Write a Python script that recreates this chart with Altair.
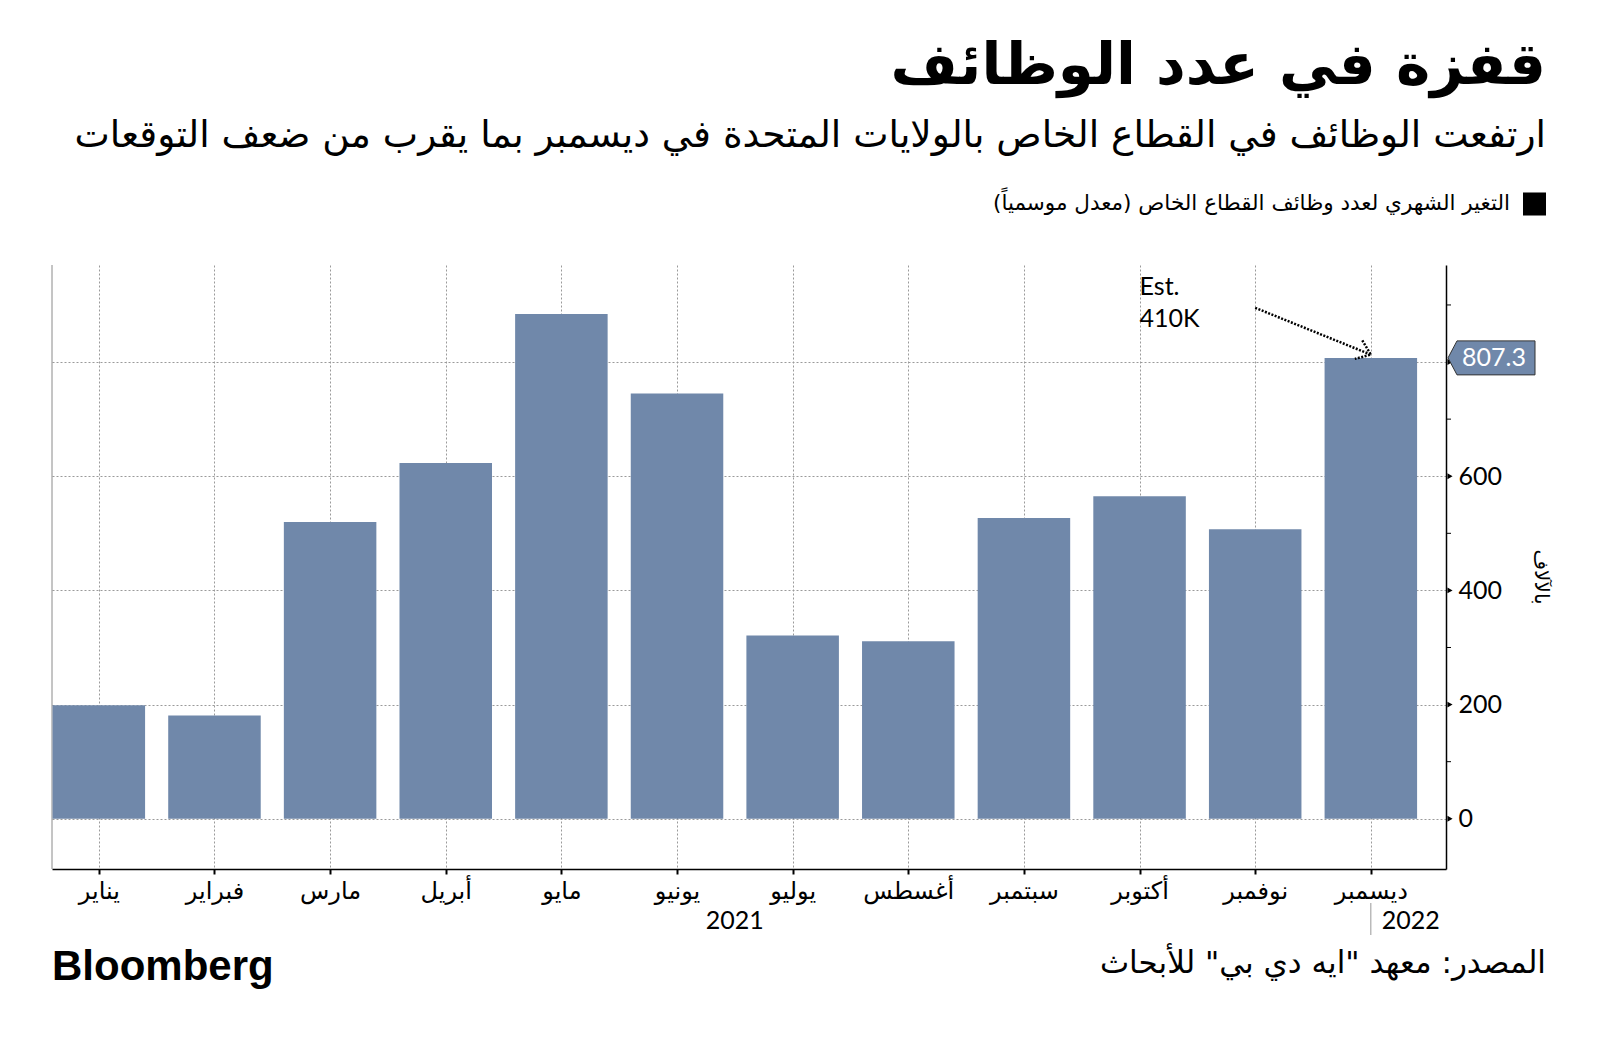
import json
import altair as alt
import pandas as pd

# ---------------- data ----------------
months = ['يناير', 'فبراير', 'مارس', 'أبريل', 'مايو', 'يونيو',
          'يوليو', 'أغسطس', 'سبتمبر', 'أكتوبر', 'نوفمبر', 'ديسمبر']
values = [199, 181, 520, 623, 884, 745, 321, 311, 527, 565, 507, 807.3]
y_ticks = [0, 200, 400, 600, 800]
minor_ticks = [100, 300, 500, 700, 900]
years = ["2021", "2022"]
year_pos = [5.5, 11]
last_value = 807.3
last_label = "807.3"
est_lines = ["Est.", "410K"]
est_y = [931, 876]
arrow_x = [10.0, 11.0]
arrow_y = [895, 813]

title = "قفزة في عدد الوظائف"
subtitle = "ارتفعت الوظائف في القطاع الخاص بالولايات المتحدة في ديسمبر بما يقرب من ضعف التوقعات"
legend_label = "التغير الشهري لعدد وظائف القطاع الخاص (معدل موسمياً)"
source = 'المصدر: معهد "ايه دي بي" للأبحاث'
y_title = "بالآلاف"
brand = "Bloomberg"

# ---------------- layout ----------------
W, H = 1394, 604
BAR = "#7088aa"
AR = "DejaVu Sans"
LAT = "Lato"

bars_df = pd.DataFrame({
    "i": list(range(12)),
    "lo": [i - 0.4 for i in range(12)],
    "hi": [i + 0.4 for i in range(12)],
    "v": values,
})
one = pd.DataFrame({"a": [0]})

xs = alt.Scale(domain=[-0.405, 11.65], nice=False, zero=False)
ys = alt.Scale(domain=[-88, 970], nice=False, zero=False)

label_expr = "[" + ",".join(json.dumps(m, ensure_ascii=False) for m in months) + "][datum.value]"

x_axis = alt.Axis(values=list(range(12)), labelExpr=label_expr, grid=True,
                  gridDash=[2, 2], gridColor="#9a9a9a", gridWidth=1,
                  domainColor="black", domainWidth=1.5, tickColor="black",
                  tickSize=5, tickWidth=2, labelFont=AR, labelFontSize=24,
                  labelColor="black", labelPadding=5, title=None)
y_axis = alt.Axis(orient="right", values=y_ticks,
                  labelExpr="datum.value == 800 ? '' : datum.label",
                  grid=True, gridDash=[2, 2], gridColor="#9a9a9a", gridWidth=1,
                  ticks=False, domainColor="black", domainWidth=1.5,
                  labelFont=LAT, labelFontSize=25, labelColor="black",
                  labelPadding=12, title=None)

bars = alt.Chart(bars_df).mark_bar(color=BAR).encode(
    x=alt.X("lo:Q", scale=xs, axis=x_axis, title=None),
    x2="hi:Q",
    y=alt.Y("v:Q", scale=ys, axis=y_axis, title=None),
    y2=alt.datum(0),
)

left_line = alt.Chart(one).mark_rule(color="#8a8a8a", strokeWidth=1).encode(
    x=alt.value(0), y=alt.value(0), y2=alt.value(H))

tri = alt.Chart(pd.DataFrame({"v": y_ticks})).mark_point(
    shape="triangle-right", filled=True, color="black", size=35, opacity=1
).encode(x=alt.value(W + 4), y=alt.Y("v:Q", scale=ys, title=None))

minor = alt.Chart(pd.DataFrame({"v": minor_ticks})).mark_rule(
    color="black", strokeWidth=1
).encode(x=alt.value(W), x2=alt.value(W + 5), y=alt.Y("v:Q", scale=ys, title=None))

box_path = "M0,0 L0.45,-0.85 L4.35,-0.85 L4.35,0.85 L0.45,0.85 Z"
box = alt.Chart(pd.DataFrame({"v": [last_value]})).mark_point(
    shape=box_path, size=1600, filled=True, fill=BAR, stroke="#333333",
    strokeWidth=1, opacity=1
).encode(x=alt.value(W + 2), y=alt.Y("v:Q", scale=ys, title=None))
box_txt = alt.Chart(pd.DataFrame({"v": [last_value], "t": [last_label]})).mark_text(
    color="white", font=LAT, fontSize=25, align="center", baseline="middle"
).encode(x=alt.value(W + 48), y=alt.Y("v:Q", scale=ys, title=None), text="t:N")

est = alt.Chart(pd.DataFrame({"x": [9, 9], "v": est_y, "t": est_lines})).mark_text(
    color="black", font=LAT, fontSize=25, align="left", baseline="middle"
).encode(x=alt.X("x:Q", scale=xs, title=None), y=alt.Y("v:Q", scale=ys, title=None), text="t:N")

arrow = alt.Chart(pd.DataFrame({"x": arrow_x, "v": arrow_y})).mark_line(
    color="black", strokeWidth=2.5, strokeDash=[2, 1.5]
).encode(x=alt.X("x:Q", scale=xs, title=None), y=alt.Y("v:Q", scale=ys, title=None))
head = alt.Chart(pd.DataFrame({"x": [arrow_x[1]], "v": [arrow_y[1]]})).mark_point(
    shape="M-1,-0.75 L0,0 L-1,0.75", size=700, angle=22, filled=False,
    stroke="black", strokeWidth=2.5, strokeDash=[2, 1.5], opacity=1
).encode(x=alt.X("x:Q", scale=xs, title=None), y=alt.Y("v:Q", scale=ys, title=None))

yr1 = alt.Chart(pd.DataFrame({"x": [year_pos[0]], "t": [years[0]]})).mark_text(
    font=LAT, fontSize=25, color="black", align="center", baseline="middle"
).encode(x=alt.X("x:Q", scale=xs, title=None), y=alt.value(H + 52), text="t:N")
yr2 = alt.Chart(pd.DataFrame({"x": [year_pos[1]], "t": [years[1]]})).mark_text(
    font=LAT, fontSize=25, color="black", align="left", baseline="middle", dx=11
).encode(x=alt.X("x:Q", scale=xs, title=None), y=alt.value(H + 52), text="t:N")
sep = alt.Chart(pd.DataFrame({"x": [year_pos[1]]})).mark_rule(
    color="#999999", strokeWidth=1
).encode(x=alt.X("x:Q", scale=xs, title=None), y=alt.value(H + 34), y2=alt.value(H + 66))


def txt(t, x, y, size, align="right", bold=False, font=AR, color="black", angle=0):
    return alt.Chart(one).mark_text(
        text=t, font=font, fontSize=size, fontWeight="bold" if bold else "normal",
        align=align, baseline="middle", color=color, angle=angle
    ).encode(x=alt.value(x), y=alt.value(y))


t_title = txt(title, W + 100, -198, 58, bold=True)
t_sub = txt(subtitle, W + 100, -129, 37.5)
t_leg = txt(legend_label, W + 64, -61, 21.5)
leg_sq = alt.Chart(one).mark_point(shape="square", filled=True, color="black",
                                   size=530, opacity=1).encode(
    x=alt.value(W + 88.5), y=alt.value(-61))
t_src = txt(source, W + 100, 699, 31)
t_brand = txt(brand, 0, 702, 42, align="left", bold=True, font="Liberation Sans")
t_ytitle = txt(y_title, W + 95, 312, 20, align="center", angle=90)

chart = alt.layer(
    left_line, bars, tri, minor, box, box_txt, est, arrow, head,
    yr1, yr2, sep, t_title, t_sub, t_leg, leg_sq, t_src, t_brand, t_ytitle
).properties(
    width=W, height=H,
    autosize=alt.AutoSizeParams(type="none"),
    padding={"left": 44, "top": 257, "right": 130, "bottom": 150},
).configure_view(stroke=None)

chart.save("out.html", embed_options={"renderer": "svg", "actions": False})
